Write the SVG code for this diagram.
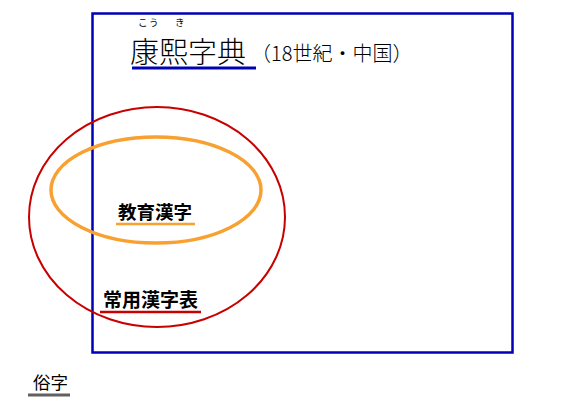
<svg xmlns="http://www.w3.org/2000/svg" width="582" height="412" viewBox="0 0 582 412">
<style>
.j{font-family:"Noto Sans CJK JP","Noto Sans CJK SC",sans-serif;}
.b{font-weight:bold;}
</style>
<rect width="582" height="412" fill="#fff"/>
<g id="kangxi">
<rect x="92.5" y="13.5" width="420" height="339" fill="none" stroke="#0000b4" stroke-width="2.5"/>
<text class="j" x="138" y="25.5" font-size="9.5" letter-spacing="1.5">こう</text>
<text class="j" x="175" y="25.5" font-size="9.5">き</text>
<text class="j" x="130" y="63" font-size="29" font-weight="300">康熙字典</text>
<text class="j" x="251" y="61" font-size="20" font-weight="300">（18世紀・中国）</text>
<line x1="132" y1="68" x2="256" y2="68" stroke="#0000b4" stroke-width="3"/>
</g>
<g id="joyo">
<ellipse cx="157" cy="217" rx="128" ry="110" fill="none" stroke="#c80000" stroke-width="2"/>
<text class="j b" x="103" y="307" font-size="19">常用漢字表</text>
<line x1="100" y1="312" x2="201" y2="312" stroke="#c80000" stroke-width="2.5"/>
</g>
<g id="kyoiku">
<ellipse cx="156" cy="190" rx="105" ry="53" fill="none" stroke="#f8a030" stroke-width="3.5"/>
<text class="j b" x="118" y="219" font-size="18.5">教育漢字</text>
<line x1="116" y1="224" x2="195" y2="224" stroke="#f8a030" stroke-width="2.5"/>
</g>
<g id="zokuji">
<text class="j" x="33" y="389" font-size="17.5">俗字</text>
<line x1="28" y1="395" x2="70" y2="395" stroke="#606060" stroke-width="3"/>
</g>
<g id="connectors"></g>
</svg>
